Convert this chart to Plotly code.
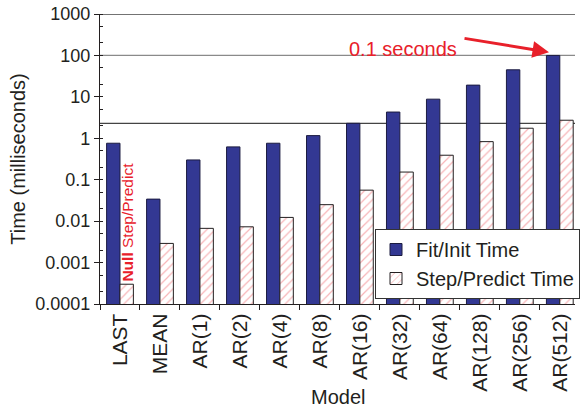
import math
import plotly.graph_objects as go

# Model names along the x axis
models = ["LAST", "MEAN", "AR(1)", "AR(2)", "AR(4)", "AR(8)", "AR(16)",
          "AR(32)", "AR(64)", "AR(128)", "AR(256)", "AR(512)"]

# Timings in milliseconds
fit_init_ms = [0.76, 0.034, 0.30, 0.62, 0.76, 1.16, 2.3,
               4.3, 8.8, 19.2, 45.0, 100.0]
step_predict_ms = [0.0003, 0.0029, 0.0067, 0.0073, 0.0123, 0.025, 0.056,
                   0.153, 0.39, 0.83, 1.75, 2.73]

# Y tick labels
y_tick_vals = [0.0001, 0.001, 0.01, 0.1, 1, 10, 100, 1000]
y_tick_text = ["0.0001", "0.001", "0.01", "0.1", "1", "10", "100", "1000"]

# Horizontal reference levels (ms)
ref_levels = [1000, 100, 2.3]

FONT = "Liberation Sans, Arial, Helvetica, sans-serif"
INK = "#231f20"
RED = "#e8202a"

fig = go.Figure()
fig.add_trace(go.Bar(
    x=models, y=fit_init_ms, name="Fit/Init Time",
    marker=dict(color="#333893", line=dict(color="#1c1c40", width=1)),
))
fig.add_trace(go.Bar(
    x=models, y=step_predict_ms, name="Step/Predict Time",
    marker=dict(color="white", line=dict(color=INK, width=1),
                pattern=dict(shape="/", fgcolor="#f06a70", bgcolor="white",
                             size=6, solidity=0.2)),
))

for lvl in ref_levels:
    fig.add_shape(type="line", xref="paper", yref="y", x0=0, x1=1,
                  y0=lvl, y1=lvl, layer="below",
                  line=dict(color="#8a8a8a" if lvl == 100 else "#444444", width=1.3))

# Callout for the slowest fit
fig.add_annotation(text="0.1 seconds", xref="paper", yref="paper",
                   x=0.6375, y=0.924, showarrow=False,
                   font=dict(family=FONT, size=20, color=RED))
fig.add_annotation(text="", xref="x", yref="y", x=10.73, y=math.log10(120),
                   ax=-86, ay=-14, showarrow=True, arrowhead=2,
                   arrowsize=1.1, arrowwidth=3, arrowcolor=RED)

# Label over the near-zero LAST step time
fig.add_annotation(text="<b>Null</b> Step/Predict", xref="x", yref="y",
                   x=0.18, y=-2.03, textangle=-90, showarrow=False,
                   font=dict(family=FONT, size=15.5, color=RED))

# X axis title, placed below the rotated category labels
fig.add_annotation(text="Model", xref="paper", yref="paper",
                   x=0.5, y=-0.3207, xanchor="center", yanchor="middle",
                   showarrow=False, font=dict(family=FONT, size=20, color=INK))

fig.update_layout(
    width=580, height=412,
    margin=dict(l=100, r=0, t=14, b=108),
    paper_bgcolor="white", plot_bgcolor="white",
    barmode="group", bargap=0.33, bargroupgap=0,
    font=dict(family=FONT, color=INK, size=18),
    showlegend=True,
    legend=dict(x=0.579, y=0.2586, xanchor="left", yanchor="top",
                bgcolor="white", bordercolor="#333333", borderwidth=1,
                font=dict(family=FONT, size=20, color=INK),
                tracegroupgap=2),
)
fig.update_xaxes(
    automargin=False,
    range=[-0.5, 11.38], tickangle=-90, tickson="boundaries",
    ticks="outside", ticklen=5, tickcolor=INK,
    showline=True, linecolor=INK, linewidth=1.3,
    tickfont=dict(size=21), showgrid=False,
)
fig.update_yaxes(
    automargin=False,
    type="log", range=[-4, 3],
    title=dict(text="Time (milliseconds)", font=dict(size=20), standoff=4),
    tickvals=y_tick_vals, ticktext=y_tick_text,
    ticks="outside", ticklen=5, tickcolor=INK,
    minor=dict(ticks="inside", ticklen=3, tickcolor=INK, showgrid=False),
    showline=True, linecolor=INK, linewidth=1.3,
    tickfont=dict(size=18), showgrid=False, zeroline=False,
)

fig.write_html("out.html")
